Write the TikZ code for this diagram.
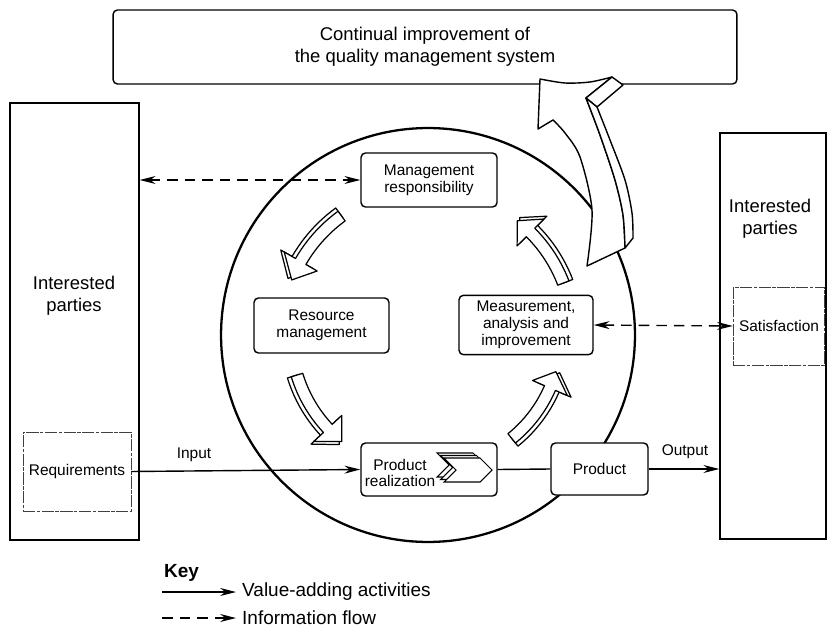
\documentclass[tikz,border=0pt]{standalone}
\usepackage{fontspec}
\setmainfont{Liberation Sans}
\usetikzlibrary{arrows.meta,positioning,calc}

% curved hollow arrow on the cycle: start, head base, tip, radius
\newcommand\cyclearrow[4]{%
  \foreach \d in {4,0}{%
    \pgfmathsetmacro\ro{#4+6+\d}%
    \pgfmathsetmacro\ri{#4-6+\d}%
    \pgfmathsetmacro\hO{#4+19+\d}%
    \pgfmathsetmacro\hI{#4-19+\d}%
    \pgfmathsetmacro\rt{#4+\d}%
    \begin{scope}[shift={(C)}]
      \draw[cyclearr] plot[domain=#1:#2, samples=12] (\x:\ro) -- (#2:\hO) -- (#3:\rt) -- (#2:\hI)
        -- plot[domain=#2:#1, samples=12] (\x:\ri) -- cycle;
    \end{scope}
  }}

\begin{document}
\begin{tikzpicture}[
    x=0.02cm, y=0.02cm,
    >={Stealth[length=9pt,width=4.5pt]},
    partybox/.style={rectangle, draw, line width=0.8pt, fill=white},
    partytext/.style={align=center, font=\fontsize{10.5}{12.5}\selectfont},
    reqbox/.style={rectangle, draw=black!75, line width=0.45pt, dash pattern=on 7pt off 0.8pt on 2pt off 0.8pt, fill=white, font=\fontsize{8.8}{10}\selectfont},
    procbox/.style={rectangle, draw, line width=0.8pt, rounded corners=2.5pt, fill=white, align=center, font=\fontsize{8.8}{9.6}\selectfont},
    lbl/.style={font=\fontsize{8.8}{9.6}\selectfont},
    keytext/.style={anchor=west, font=\fontsize{10.8}{13}\selectfont},
    flow/.style={->, line width=0.8pt},
    info/.style={line width=0.8pt, dash pattern=on 6pt off 4pt},
    cyclearr/.style={draw, fill=white, line width=0.7pt, line join=round},
    bigarr/.style={draw, fill=white, line width=0.8pt, line join=round}
]
    \useasboundingbox (0,0) rectangle (834,633);

    % Cycle
    \coordinate (C) at (428,298);
    \draw[line width=1.3pt] (C) circle[radius=4.14cm];

    % Top box
    \node[partybox, rounded corners=2.5pt, partytext, minimum width=12.48cm, minimum height=1.48cm] (improve) at (425,586)
        {Continual improvement of\\the quality management system};

    % Interested parties
    \node[partybox, minimum width=2.58cm, minimum height=8.74cm] (leftparty) at (74.5,311.5) {};
    \node[partytext] (lefttext) at (74,337) {Interested\\parties};
    \node[reqbox, minimum width=2cm, minimum height=1.58cm] (req) at (77,161.5) {Requirements};

    \node[partybox, minimum width=2.12cm, minimum height=8.12cm] (rightparty) at (773,297) {};
    \node[partytext] (righttext) at (770,414) {Interested\\parties};
    \node[reqbox, minimum width=1.8cm, minimum height=1.56cm] (satis) at (779,307) {Satisfaction};

    % Processes
    \node[procbox, minimum width=2.72cm, minimum height=1.08cm] (mgmt) at (429,453) {Management\\responsibility};
    \node[procbox, minimum width=2.7cm, minimum height=1.1cm] (resource) at (321.5,307.5) {Resource\\management};
    \node[procbox, minimum width=2.68cm, minimum height=1.08cm] (measure) at (526,308) {Measurement,\\analysis and\\improvement};
    \node[procbox, minimum width=2.72cm, minimum height=1.06cm] (prodreal) at (429,163.5) {};
    \node[lbl, align=center, inner sep=0pt] (prtext) at (400,160) {Product\\realization};
    \foreach \s in {2,1,0}
        \draw[fill=white, line width=0.6pt, shift={(-3.5*\s,2.5*\s)}] (444,175) -- (480,175) -- (492,163) -- (480,151) -- (444,151) -- (456,163) -- cycle;
    \node[procbox, minimum width=1.94cm, minimum height=1.04cm] (product) at (599.5,164) {Product};

    % Cycle arrows
    \cyclearrow{126}{150}{158}{147}
    \cyclearrow{197}{223}{231}{137}
    \cyclearrow{-51}{-23.5}{-16}{133}
    \cyclearrow{21}{45}{52}{145}

    % Improvement arrow
    \draw[bigarr] plot[smooth] coordinates {(540,554) (565,550) (590,551) (612,556)} -- (586,535)
        -- plot[smooth] coordinates {(586,535) (600,498) (615,453) (623,418) (625,385)} -- (587,367)
        -- plot[smooth] coordinates {(587,367) (592,423) (580,476) (565,500) (553,513)} -- (538,504) -- cycle;
    \draw[bigarr] (612,556) -- (623,548) -- (597,526) -- (586,535) -- cycle;
    \draw[bigarr] plot[smooth] coordinates {(597,526) (610,493) (625,453) (632,420) (633,395)} -- (625,385)
        -- plot[smooth] coordinates {(625,385) (623,418) (615,453) (600,498) (586,535)} -- cycle;

    % Flows
    \draw[flow] (req.east) -- (prodreal.west);
    \node[lbl] (inlbl) at (194,178) {Input};
    \draw[line width=0.8pt] (prodreal.east) -- (product.west);
    \draw[flow] (product.east) -- (product.east -| rightparty.west);
    \node[lbl] (outlbl) at (685,181) {Output};
    \draw[info, <->] (mgmt.west -| leftparty.east) -- (mgmt.west);
    \draw[info, <->] (measure.east) -- (satis.west);

    % Key
    \node[keytext, font=\fontsize{10.8}{13}\selectfont\bfseries] (key) at (158,60) {Key};
    \coordinate (k1) at (162,41);
    \node[keytext] (k1t) at (236,41) {Value-adding activities};
    \draw[flow] (k1) -- (k1t.west);
    \coordinate (k2) at (162,15);
    \node[keytext] (k2t) at (236,15) {Information flow};
    \draw[info, ->] (k2) -- (k2t.west);
\end{tikzpicture}
\end{document}
